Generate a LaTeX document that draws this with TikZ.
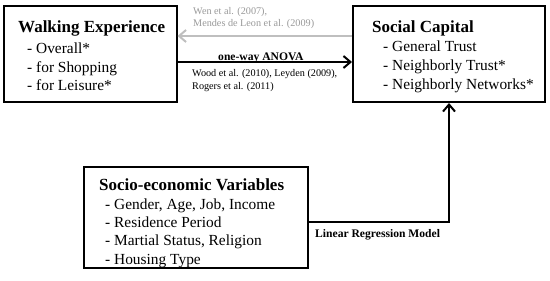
\documentclass[tikz,border=0pt]{standalone}
\usepackage{fontspec}
\setmainfont{Liberation Serif}
\usetikzlibrary{arrows.meta}
\tikzset{box/.style={draw,line width=2pt,inner sep=0pt},
	head/.style={font=\fontsize{17}{20}\selectfont\bfseries,anchor=base west,inner sep=0pt},
	item/.style={font=\fontsize{15.4}{18}\selectfont,anchor=base west,inner sep=0pt},
	cite/.style={font=\fontsize{10.2}{12}\selectfont,anchor=base west,inner sep=0pt},
	method/.style={font=\fontsize{11.6}{14}\selectfont\bfseries,anchor=base west,inner sep=0pt},
	link/.style={line width=2pt,-{Straight Barb[length=7pt,width=12pt,line width=2pt]}}}

\begin{document}
\begin{tikzpicture}[x=1pt,y=-1pt]
	\useasboundingbox (0,0) rectangle (550,281);
	% the three boxes
	\node[box,minimum width=173pt,minimum height=96pt] (walk) at (90,54) {};
	\node[box,minimum width=192pt,minimum height=96pt] (soc) at (449,54) {};
	\node[box,minimum width=224pt,minimum height=101pt] (socio) at (196,217.5) {};
	%
	\node[head] (walk-t) at (18,33) {Walking Experience};
	\foreach \t [count=\i] in {Overall*, for Shopping, for Leisure*}
		\node[item] (walk-\i) at (27,53.3+18.7*\i-18.7) {- \t};
	\node[head] (soc-t) at (372,32.3) {Social Capital};
	\foreach \t [count=\i] in {General Trust, Neighborly Trust*, Neighborly Networks*}
		\node[item] (soc-\i) at (383,51.7+18.8*\i-18.8) {- \t};
	\node[head] (socio-t) at (99,190.7) {Socio-economic Variables};
	\foreach \t [count=\i] in {{Gender, Age, Job, Income}, Residence Period, {Martial Status, Religion}, Housing Type}
		\node[item] (socio-\i) at (105,209.3+18.3*\i-18.3) {- \t};
	%
	\draw[link,black!25] ([yshift=18pt]soc.west) -- ([yshift=18pt]walk.east);
	\draw[link] ([yshift=-8pt]walk.east) -- ([yshift=-8pt]soc.west);
	\draw[link] ([yshift=-4.5pt]socio.east) -| (soc.south);
	%
	\node[cite,black!40] (wen) at (193,14) {Wen et al. (2007),};
	\node[cite,black!40] (mendes) at (193,26.5) {Mendes de Leon et al. (2009)};
	\node[method] (anova) at (218,60) {one-way ANOVA};
	\node[cite] (wood) at (192,76) {Wood et al. (2010), Leyden (2009),};
	\node[cite] (rogers) at (192,89) {Rogers et al. (2011)};
	\node[method] (linreg) at (315,237.5) {Linear Regression Model};
\end{tikzpicture}
\end{document}
